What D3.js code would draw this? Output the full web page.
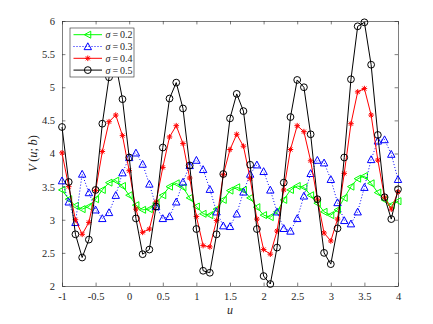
<!DOCTYPE html>
<html>
<head>
<meta charset="utf-8">
<script src="https://cdn.jsdelivr.net/npm/d3@7"></script>
<style>
	body { margin: 0; background: #fff; }
	svg { display: block; }
	text { font-family: "Liberation Serif", "DejaVu Serif", serif; fill: #262626; }
</style>
</head>
<body>
<script>
const uValues = [-1, -0.9, -0.8, -0.7, -0.6, -0.5, -0.4, -0.3, -0.2, -0.1,
	0, 0.1, 0.2, 0.3, 0.4, 0.5, 0.6, 0.7, 0.8, 0.9,
	1, 1.1, 1.2, 1.3, 1.4, 1.5, 1.6, 1.7, 1.8, 1.9,
	2, 2.1, 2.2, 2.3, 2.4, 2.5, 2.6, 2.7, 2.8, 2.9,
	3, 3.1, 3.2, 3.3, 3.4, 3.5, 3.6, 3.7, 3.8, 3.9, 4];

const sigma02 = [3.45, 3.31, 3.21, 3.16, 3.20, 3.31, 3.45, 3.56, 3.59, 3.51,
	3.37, 3.22, 3.15, 3.16, 3.25, 3.37, 3.50, 3.55, 3.49, 3.33,
	3.20, 3.09, 3.07, 3.16, 3.30, 3.44, 3.49, 3.45, 3.33, 3.19,
	3.07, 3.04, 3.12, 3.30, 3.45, 3.51, 3.49, 3.37, 3.25, 3.12,
	3.07, 3.15, 3.33, 3.50, 3.62, 3.66, 3.55, 3.41, 3.30, 3.22, 3.28];

const sigma03 = [3.59, 3.27, 2.96, 3.69, 3.41, 3.15, 3.02, 3.11, 3.37, 3.71,
	3.94, 4.01, 3.84, 3.54, 3.20, 3.02, 3.05, 3.27, 3.57, 3.82,
	3.90, 3.76, 3.46, 3.12, 2.91, 2.90, 3.09, 3.42, 3.69, 3.83,
	3.73, 3.45, 3.12, 2.87, 2.83, 3.02, 3.36, 3.70, 3.90, 3.86,
	3.61, 3.26, 2.99, 2.94, 3.12, 3.49, 3.91, 4.19, 4.21, 3.99, 3.61];

const sigma04 = [4.01, 3.50, 3.00, 2.78, 2.96, 3.44, 4.03, 4.48, 4.58, 4.27,
	3.74, 3.16, 2.81, 2.86, 3.27, 3.79, 4.25, 4.42, 4.15, 3.63,
	3.05, 2.61, 2.59, 2.99, 3.68, 4.06, 4.29, 4.11, 3.62, 3.01,
	2.55, 2.48, 2.83, 3.45, 4.06, 4.42, 4.33, 3.89, 3.31, 2.80,
	2.68, 3.01, 3.70, 4.45, 4.93, 4.98, 4.58, 3.90, 3.34, 3.16, 3.42];

const sigma05 = [4.40, 3.57, 2.78, 2.43, 2.70, 3.45, 4.45, 5.15, 5.35, 4.82,
	3.94, 3.02, 2.48, 2.55, 3.20, 4.09, 4.83, 5.07, 4.68, 3.82,
	2.86, 2.23, 2.20, 2.78, 3.69, 4.53, 4.90, 4.64, 3.83, 2.86,
	2.15, 2.03, 2.58, 3.56, 4.55, 5.11, 5.00, 4.29, 3.31, 2.50,
	2.33, 2.87, 3.94, 5.12, 5.92, 5.98, 5.34, 4.28, 3.34, 3.01, 3.46];

const seriesLabels = ["0.2", "0.3", "0.4", "0.5"];
const xTicks = [-1, -0.5, 0, 0.5, 1, 1.5, 2, 2.5, 3, 3.5, 4];
const yTicks = [2, 2.5, 3, 3.5, 4, 4.5, 5, 5.5, 6];

const width = 433;
const height = 324;
const plot = {left: 62, right: 398, top: 21, bottom: 286};
const axisColor = "#262626";

// marker path generators, centred on 0,0
function triangleLeft(s) {
	return `M${-s},0L${s * 0.85},${-s}L${s * 0.85},${s}Z`;
}
function triangleUp(s) {
	return `M0,${-s}L${s},${s * 0.85}L${-s},${s * 0.85}Z`;
}
function asterisk(s) {
	const d = s * 0.72;
	return `M${-s},0L${s},0M0,${-s}L0,${s}M${-d},${-d}L${d},${d}M${-d},${d}L${d},${-d}`;
}
function circle(r) {
	return `M${r},0A${r},${r} 0 1,1 ${-r},0A${r},${r} 0 1,1 ${r},0Z`;
}

const series = [
	{values: sigma02, color: "#00ff00", dash: null, marker: triangleLeft(3.5)},
	{values: sigma03, color: "#0000ff", dash: "1,2", marker: triangleUp(3.7)},
	{values: sigma04, color: "#ff0000", dash: null, marker: asterisk(2.8)},
	{values: sigma05, color: "#000000", dash: null, marker: circle(3.4)}
];

function buildPoints(values) {
	return values.map((v, i) => ({u: uValues[i], v: v}));
}

function constructChart() {
	const scaleX = d3.scaleLinear().domain([-1, 4]).range([plot.left, plot.right]);
	const scaleY = d3.scaleLinear().domain([2, 6]).range([plot.bottom, plot.top]);

	const svg = d3.select("body")
		.append("svg")
		.attr("width", width)
		.attr("height", height);

	svg.append("rect")
		.attr("width", width)
		.attr("height", height)
		.attr("fill", "#fff");

	// axes: bottom/left with labels, top/right just ticks (box on, ticks in)
	const tickLen = 3.4;
	const axes = [
		{axis: d3.axisBottom(scaleX).tickValues(xTicks).tickSizeInner(-tickLen).tickSizeOuter(0).tickPadding(7), y: plot.bottom, labels: true},
		{axis: d3.axisTop(scaleX).tickValues(xTicks).tickSizeInner(-tickLen).tickSizeOuter(0), y: plot.top, labels: false},
		{axis: d3.axisLeft(scaleY).tickValues(yTicks).tickSizeInner(-tickLen).tickSizeOuter(0).tickPadding(7), x: plot.left, labels: true},
		{axis: d3.axisRight(scaleY).tickValues(yTicks).tickSizeInner(-tickLen).tickSizeOuter(0), x: plot.right, labels: false}
	];

	axes.forEach(a => {
		a.axis.tickFormat(d => String(d));
		const g = svg.append("g")
			.attr("transform", `translate(${a.x || 0},${a.y || 0})`)
			.call(a.axis);
		g.select(".domain").attr("stroke", axisColor).attr("stroke-width", 0.6);
		g.selectAll(".tick line").attr("stroke", axisColor).attr("stroke-width", 0.6);
		g.selectAll(".tick text")
			.attr("fill", "#3a3a3a")
			.style("font-size", "10.5px")
			.style("font-family", "'Liberation Serif', serif")
			.style("display", a.labels ? null : "none");
	});

	const line = d3.line()
		.x(d => scaleX(d.u))
		.y(d => scaleY(d.v));

	series.forEach(s => {
		const points = buildPoints(s.values);
		svg.append("path")
			.datum(points)
			.attr("fill", "none")
			.attr("stroke", s.color)
			.attr("stroke-width", 1)
			.attr("stroke-dasharray", s.dash)
			.attr("stroke-linejoin", "round")
			.attr("d", line);

		svg.append("g")
			.selectAll("path")
			.data(points)
			.join("path")
			.attr("transform", d => `translate(${scaleX(d.u)},${scaleY(d.v)})`)
			.attr("d", s.marker)
			.attr("fill", "none")
			.attr("stroke", s.color)
			.attr("stroke-width", 1);
	});

	// axis titles
	svg.append("text")
		.attr("x", (plot.left + plot.right) / 2)
		.attr("y", 314)
		.attr("text-anchor", "middle")
		.style("font-size", "12px")
		.style("font-style", "italic")
		.text("u");

	const yTitle = svg.append("text")
		.attr("transform", `translate(37,${(plot.top + plot.bottom) / 2}) rotate(-90)`)
		.attr("text-anchor", "middle")
		.style("font-size", "12.5px");
	yTitle.append("tspan").style("font-style", "italic").text("V\u2009");
	yTitle.append("tspan").text("(");
	yTitle.append("tspan").style("font-style", "italic").text("u");
	yTitle.append("tspan").text(";\u2009");
	yTitle.append("tspan").style("font-style", "italic").text("b");
	yTitle.append("tspan").text(")");

	// legend
	const legend = svg.append("g").attr("transform", "translate(70,28)");
	legend.append("rect")
		.attr("width", 64)
		.attr("height", 49)
		.attr("fill", "#fff")
		.attr("stroke", axisColor)
		.attr("stroke-width", 0.6);

	series.forEach((s, i) => {
		const y = 6.7 + i * 11.8;
		const row = legend.append("g").attr("transform", `translate(0,${y})`);
		row.append("line")
			.attr("x1", 3.5)
			.attr("x2", 32)
			.attr("stroke", s.color)
			.attr("stroke-width", 1)
			.attr("stroke-dasharray", s.dash);
		row.append("path")
			.attr("transform", "translate(17.8,0)")
			.attr("d", s.marker)
			.attr("fill", "none")
			.attr("stroke", s.color)
			.attr("stroke-width", 1);
		const label = row.append("text")
			.attr("x", 35.5)
			.attr("y", 3.5)
			.style("font-size", "10px");
		label.append("tspan").style("font-style", "italic").text("σ");
		label.append("tspan").text("\u2009=\u2009" + seriesLabels[i]);
	});
}

constructChart();
</script>
</body>
</html>
